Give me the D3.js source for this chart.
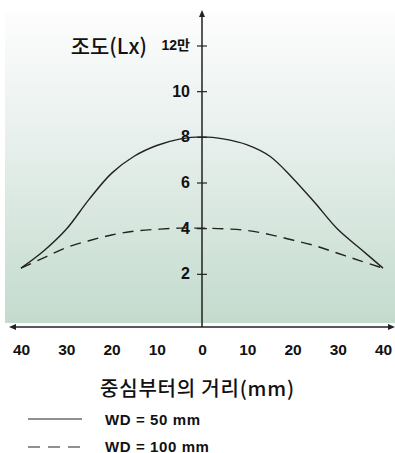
<!DOCTYPE html>
<html><head><meta charset="utf-8">
<script src="https://cdn.jsdelivr.net/npm/d3@7"></script>
<style>body{margin:0;background:#fff}svg{display:block}</style>
</head><body>
<script>
const xValues = [-40,-35,-30,-25,-20,-15,-10,-5,0,5,10,15,20,25,30,35,40];
const wd50 = [2.25,3.0,3.95,5.25,6.4,7.15,7.62,7.9,8.0,7.9,7.65,7.15,6.2,5.1,3.95,3.1,2.25];
const wd100 = [2.25,2.7,3.15,3.45,3.7,3.87,3.95,4.0,4.0,3.97,3.9,3.72,3.48,3.23,2.9,2.57,2.25];
const xTicks = [-40,-30,-20,-10,0,10,20,30,40];
const yTicks = [2,4,6,8,10,12];
const yTitle = "조도(Lx)";
const xTitle = "중심부터의 거리(mm)";
const legendLabels = ["WD = 50 mm","WD = 100 mm"];

const W=395,H=453;
const svg=d3.select("body").append("svg").attr("width",W).attr("height",H);
const num="'Liberation Sans', Arial, 'Noto Sans CJK KR', sans-serif";
const kr="'Noto Sans CJK KR', sans-serif";

const defs=svg.append("defs");
const g=defs.append("linearGradient").attr("id","bg").attr("x1",0).attr("y1",0).attr("x2",0).attr("y2",1);
g.append("stop").attr("offset","0%").attr("stop-color","#fdfdfd");
g.append("stop").attr("offset","45%").attr("stop-color","#e5eeea");
g.append("stop").attr("offset","100%").attr("stop-color","#c3dbcd");
svg.append("rect").attr("x",5).attr("y",12).attr("width",390).attr("height",311).attr("fill","url(#bg)");

const x=d3.scaleLinear().domain([-40,40]).range([21,383]);
const y=d3.scaleLinear().domain([0,12]).range([319.5,45.5]);
const axisY=327, x0=x(0);

svg.append("line").attr("x1",12).attr("x2",392).attr("y1",axisY).attr("y2",axisY).attr("stroke","#222").attr("stroke-width",1.5);
svg.append("path").attr("d",`M9,${axisY} L16,${axisY-3} L16,${axisY+3} Z`).attr("fill","#222");
svg.append("path").attr("d",`M395,${axisY} L388,${axisY-3} L388,${axisY+3} Z`).attr("fill","#222");
svg.append("line").attr("x1",x0).attr("x2",x0).attr("y1",axisY).attr("y2",14).attr("stroke","#222").attr("stroke-width",1.5);
svg.append("path").attr("d",`M${x0},10 L${x0-3},17 L${x0+3},17 Z`).attr("fill","#222");

const ya=svg.append("g").attr("transform",`translate(${x0},0)`)
  .call(d3.axisLeft(y).tickValues(yTicks).tickSize(5).tickPadding(7).tickFormat(d=>d===12?"12만":d));
ya.select(".domain").remove();
ya.selectAll(".tick line").attr("x1",-5).attr("x2",5).attr("stroke","#222").attr("stroke-width",1.2);
ya.selectAll(".tick text").attr("font-family",num).attr("font-size",16).attr("font-weight","bold").attr("fill","#111")
  .filter(d=>d===12).attr("font-size",14);

const xa=svg.append("g").attr("transform",`translate(0,${axisY})`)
  .call(d3.axisBottom(x).tickValues(xTicks).tickSize(0).tickPadding(17).tickFormat(d=>Math.abs(d)));
xa.select(".domain").remove();
xa.selectAll(".tick text").attr("font-family",num).attr("font-size",15.5).attr("font-weight","bold").attr("fill","#111");

const line=d3.line().x((d,i)=>x(xValues[i])).y(d=>y(d)).curve(d3.curveCatmullRom.alpha(0.5));
svg.append("path").attr("d",line(wd50)).attr("fill","none").attr("stroke","#222").attr("stroke-width",1.4);
svg.append("path").attr("d",line(wd100)).attr("fill","none").attr("stroke","#222").attr("stroke-width",1.4).attr("stroke-dasharray","11,7");

svg.append("text").attr("x",147).attr("y",54).attr("text-anchor","end").attr("font-family",kr).attr("font-size",21).attr("font-weight",500).attr("fill","#111").text(yTitle);
svg.append("text").attr("x",100).attr("y",396).attr("text-anchor","start").attr("font-family",kr).attr("font-size",20).attr("font-weight",500).attr("letter-spacing",0.8).attr("fill","#111").text(xTitle);

svg.append("line").attr("x1",28).attr("x2",82).attr("y1",419).attr("y2",419).attr("stroke","#222").attr("stroke-width",1.2);
svg.append("line").attr("x1",28).attr("x2",82).attr("y1",447).attr("y2",447).attr("stroke","#222").attr("stroke-width",1.2).attr("stroke-dasharray","12,8");
svg.append("text").attr("x",105).attr("y",424.5).attr("font-family",num).attr("font-size",15).attr("font-weight","bold").attr("letter-spacing",0.6).attr("fill","#111").text(legendLabels[0]);
svg.append("text").attr("x",105).attr("y",451.5).attr("font-family",num).attr("font-size",15).attr("font-weight","bold").attr("letter-spacing",0.6).attr("fill","#111").text(legendLabels[1]);
</script>
</body></html>
